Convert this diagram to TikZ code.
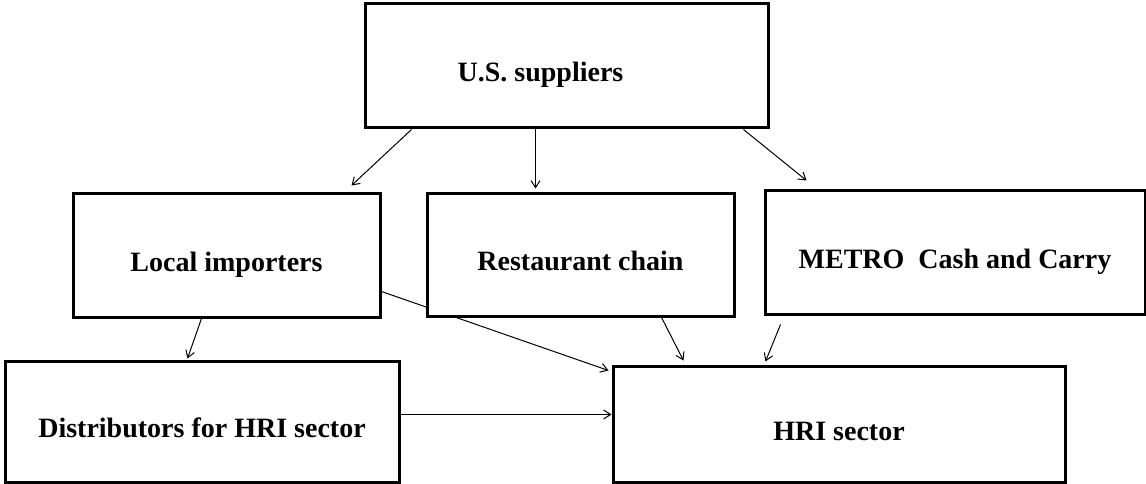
\documentclass[tikz,border=0pt]{standalone}
\usepackage{fontspec}
\setmainfont{Liberation Serif}
\usepackage{tikz}
\usetikzlibrary{
    arrows.meta,
    backgrounds
}
\tikzset{
    box/.style={draw, line width=3pt, fill=white, inner sep=0pt,
        font=\fontsize{28}{32}\selectfont\bfseries,
        text height=32pt, text depth=0pt},
    flow/.style={-{Straight Barb[length=7pt,width=9pt]}, line width=1pt}
}

\begin{document}
\begin{tikzpicture}[x=1pt,y=-1pt]
        \useasboundingbox (0,0) rectangle (1146,484);
        \begin{scope}[shift={(0,0)}]
            \draw (566.5,66)    node[box,minimum width=403pt,minimum height=124pt](us){U.S. suppliers\hspace*{52pt}};
            \draw (226.5,255)   node[box,minimum width=307pt,minimum height=124pt](loc){Local importers};
            \draw (580.5,254.5) node[box,minimum width=307pt,minimum height=123pt](rest){Restaurant chain};
            \draw (955,252)     node[box,minimum width=380pt,minimum height=124pt](metro){METRO\ \ Cash and Carry};
            \draw (202,421.5)   node[box,minimum width=394pt,minimum height=121pt](dist){Distributors for HRI sector};
            \draw (839,424)     node[box,minimum width=452pt,minimum height=116pt](hri){HRI sector};

            \begin{pgfonlayer}{background}
                \draw[flow] ([xshift=48pt]us.south west)  to ([xshift=-30pt,yshift=6pt]loc.north east);
                \draw[flow] ([xshift=172pt]us.south west) to ([xshift=110pt,yshift=3pt]rest.north west);
                \draw[flow] ([xshift=-26pt]us.south east) to ([xshift=43pt,yshift=8pt]metro.north west);
                \draw[flow] ([xshift=130pt]loc.south west) to ([xshift=184pt,yshift=1pt]dist.north west);
                \draw[flow] ([yshift=27pt]loc.south east) to ([xshift=-3pt,yshift=-6pt]hri.north west);
                \draw[flow] ([xshift=236pt]rest.south west) to ([xshift=72pt,yshift=4pt]hri.north west);
                \draw[flow] ([xshift=17pt,yshift=-9pt]metro.south west) to ([xshift=154pt,yshift=3pt]hri.north west);
                \draw[flow] ([yshift=7pt]dist.east) to ([yshift=7pt]dist.east -| hri.west);
            \end{pgfonlayer}
        \end{scope}
    \end{tikzpicture}
\end{document}
